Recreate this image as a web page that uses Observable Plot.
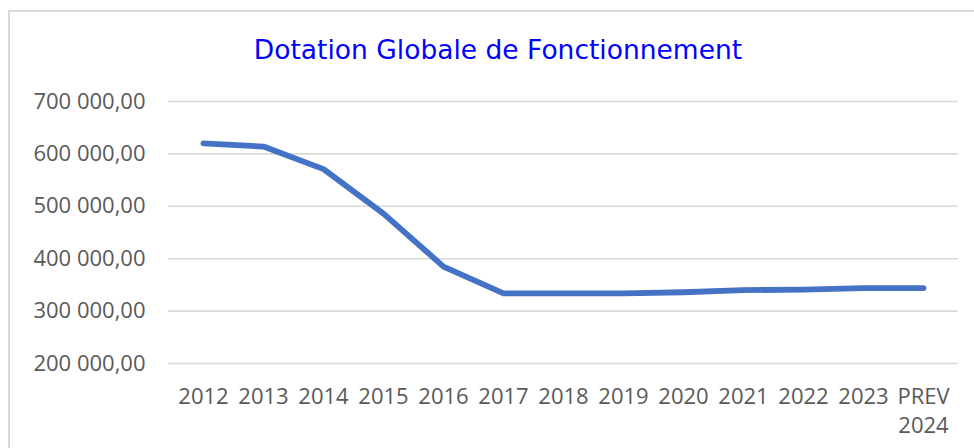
<!DOCTYPE html>
<html>
<head>
<meta charset="utf-8">
<script src="https://cdn.jsdelivr.net/npm/d3@7"></script>
<script src="https://cdn.jsdelivr.net/npm/@observablehq/plot@0.6"></script>
<style>
  html, body { margin: 0; padding: 0; background: #fff; }
  #wrap { position: relative; width: 974px; height: 448px; overflow: hidden; background: #fff; }
  #frame { position: absolute; left: 8px; top: 10px; width: 1000px; height: 500px;
           border-left: 2px solid #d9d9d9; border-top: 2px solid #d9d9d9; box-sizing: border-box; }
  #title { position: absolute; left: 0; width: 996px; top: 37px; text-align: center;
           font-family: "DejaVu Sans", sans-serif; font-size: 26.5px; line-height: 26px; color: #0000ff; z-index: 2; }
  #chart { position: absolute; left: 0; top: 0; }
</style>
</head>
<body>
<div id="wrap">
  <div id="frame"></div>
  <div id="title">Dotation Globale de Fonctionnement</div>
  <div id="chart"></div>
</div>
<script>
const years = ["2012","2013","2014","2015","2016","2017","2018","2019","2020","2021","2022","2023","PREV 2024"];
const values = [620000, 614000, 571000, 486000, 385000, 334000, 334000, 334000, 336000, 340000, 341000, 344000, 344000];
const yTicks = [200000, 300000, 400000, 500000, 600000, 700000];

const data = years.map((year, i) => ({year, value: values[i]}));

const fmt = v => d3.format(",.2f")(v).replace(/,/g, " ").replace(".", ",");

const chart = Plot.plot({
  width: 974,
  height: 448,
  marginLeft: 168,
  marginRight: 16,
  marginTop: 101,
  marginBottom: 85,
  style: { fontFamily: "'Open Sans', sans-serif", fontSize: "22px", color: "#595959", background: "transparent" },
  x: { type: "point", domain: years, padding: 0.5 },
  y: { domain: [200000, 700000] },
  marks: [
    Plot.gridY(yTicks, { stroke: "#d9d9d9", strokeOpacity: 1, strokeWidth: 1.6 }),
    Plot.axisY(yTicks, { tickSize: 0, tickPadding: 23, tickFormat: fmt, fill: "#595959", fontSize: 22, label: null }),
    Plot.axisX({ tickSize: 0, tickPadding: 20, fill: "#595959", fontSize: 22, label: null, lineHeight: 1.32,
                 tickFormat: d => d.replace(" ", "\n") }),
    Plot.line(data, { x: "year", y: "value", stroke: "#4472c4", strokeWidth: 5.8,
                      strokeLinecap: "round", strokeLinejoin: "round" })
  ]
});
document.getElementById("chart").appendChild(chart);
</script>
</body>
</html>
